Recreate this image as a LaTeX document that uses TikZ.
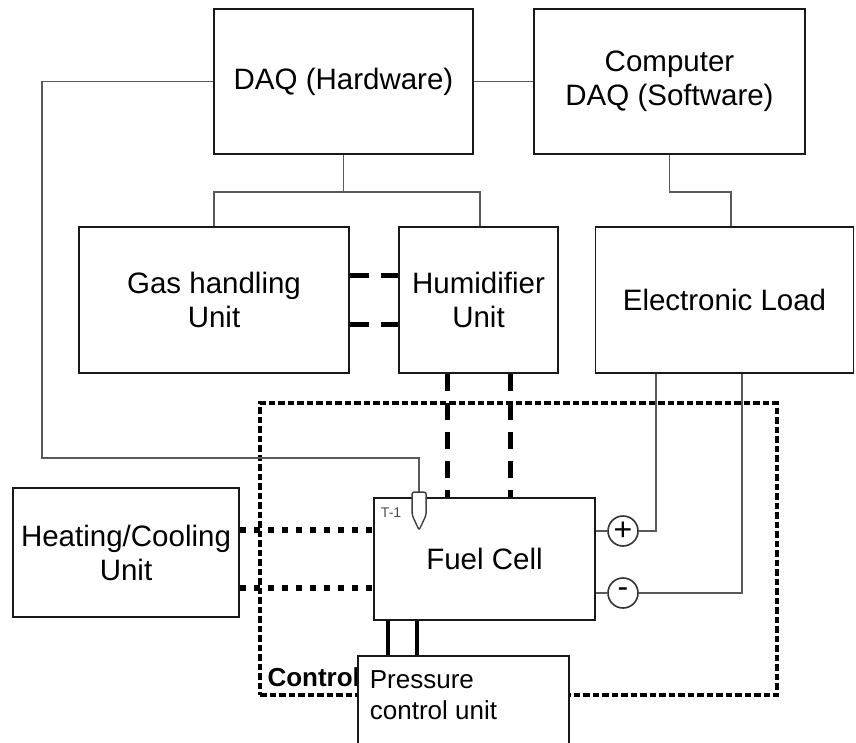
\documentclass[tikz,border=0pt]{standalone}
\usepackage{fontspec}
\setmainfont{Liberation Sans}
\usetikzlibrary{calc}
\tikzset{
  blk/.style={draw=black!90, rectangle, line width=1.8pt, inner sep=0pt, align=center, font=\fontsize{29.5}{34}\selectfont},
  lnk/.style={draw=black!65, line width=1.6pt},
  gaspipe/.style={line width=5pt, dash pattern=on 19pt off 12pt},
  wetpipe/.style={line width=5pt, dash pattern=on 17pt off 12pt},
  heatln/.style={line width=5.5pt, dash pattern=on 6pt off 8pt},
  cvol/.style={draw, rectangle, line width=3.4pt, dash pattern=on 6.5pt off 3pt, inner sep=0pt},
  term/.style={draw=black!80, circle, line width=1.6pt, minimum size=30pt, inner sep=0pt, font=\fontsize{32}{32}\selectfont},
  rod/.style={line width=4.5pt},
  sens/.style={draw=black!75, line width=1.4pt, fill=white, rounded corners=2pt},
}
\begin{document}
\begin{tikzpicture}[x=1pt, y=-1pt]
\useasboundingbox (0,0) rectangle (856,742);

% Control volume
\node[cvol, minimum width=517pt, minimum height=292pt] (cv) at (518.5,549) {};
\node[anchor=base west, inner sep=0pt, font=\bfseries\fontsize{26}{30}\selectfont]
  at ([shift={(9,-10)}]cv.south west) (cvlbl) {Control};

% DAQ row
\node[blk, minimum width=259pt, minimum height=145pt] (daq) at (343.5,81.5) {DAQ (Hardware)};
\node[blk, minimum width=271pt, minimum height=145pt] (pc) at (669.5,81.5)
  {Computer\\DAQ (Software)};

% Supply row
\node[blk, minimum width=270pt, minimum height=146pt] (gas) at (214,300) {Gas handling\\Unit};
\node[blk, minimum width=159pt, minimum height=146pt] (hum) at (478.5,300) {Humidifier\\Unit};
\node[blk, minimum width=258pt, minimum height=146pt] (load) at (724.5,300) {Electronic Load};

% Cell
\node[blk, minimum width=221pt, minimum height=122pt] (fc) at (484.5,559) {Fuel Cell};
\node[blk, minimum width=226pt, minimum height=129pt] (hc) at (126,552.5)
  {Heating/Cooling\\Unit};
\node[blk, fill=white, anchor=north west, inner xsep=12pt, inner ysep=15pt,
  font=\fontsize{26}{31}\selectfont] at (357,655) (pcu)
  {\parbox[t][100pt][t]{187pt}{Pressure\\control unit}};

\node[term] (pos) at (623,531) {+};
\node[term] (neg) at (623,593) {-};
\coordinate (t1) at ([shift={(46,-5)}]fc.north west);
\coordinate (hub) at (daq.south |- 0,192);

% Signal lines
\draw[lnk] (daq) -- (pc);
\draw[lnk] (daq.south) -- (hub);
\draw[lnk] (gas.north) |- (hub) -| (hum.north -| 480,0);
\draw[lnk] (pc.south) |- (731,192) -- (load.north -| 731,0);
\draw[lnk] (daq.west) -| (42,458) -| (t1);
\draw[lnk] (fc.east |- pos) -- (pos);
\draw[lnk] (fc.east |- neg) -- (neg);
\draw[lnk] (pos.east) -| (load.south -| 656,0);
\draw[lnk] (neg.east) -| (load.south -| 742,0);

% Thermocouple
\draw[sens] ([shift={(-7,23)}]t1) -- ++(0,-23) -- ++(14,0) -- ++(0,23) -- ++(-7,15) -- cycle;
\node[inner sep=0pt, text=black!70, font=\fontsize{14}{16}\selectfont]
  at ([shift={(18,16)}]fc.north west) (t1lbl) {T-1};

% Gas, water and heat
\draw[gaspipe] (gas.east |- 0,275) -- (hum.west |- 0,275);
\draw[gaspipe] (gas.east |- 0,324) -- (hum.west |- 0,324);
\draw[wetpipe] (hum.south -| 447,0) -- (fc.north -| 447,0);
\draw[wetpipe] (hum.south -| 510,0) -- (fc.north -| 510,0);
\draw[heatln] (hc.east |- 0,530) -- (fc.west |- 0,530);
\draw[heatln] (hc.east |- 0,588) -- (fc.west |- 0,588);
\draw[rod] (fc.south -| 388,0) -- (pcu.north -| 388,0);
\draw[rod] (fc.south -| 417,0) -- (pcu.north -| 417,0);

\end{tikzpicture}
\end{document}
